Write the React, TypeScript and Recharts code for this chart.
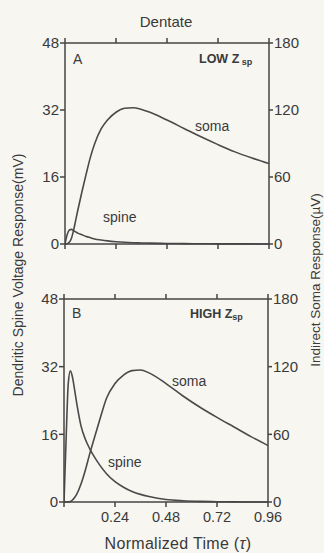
import React from 'react';
import { LineChart, Line, XAxis, YAxis } from 'recharts';

// normalized time (tau), shared by every series
const time = [0, 0.01, 0.02, 0.03, 0.04, 0.05, 0.06, 0.08, 0.1, 0.12, 0.14, 0.17, 0.2, 0.24, 0.28, 0.32, 0.36, 0.4, 0.48, 0.56, 0.64, 0.72, 0.8, 0.88, 0.96];

// panel A, low Zsp
const spineLow = [0, 2.2, 3.3, 3.5, 3.2, 2.9, 2.6, 2.2, 1.8, 1.5, 1.2, 0.95, 0.75, 0.55, 0.4, 0.3, 0.25, 0.2, 0.13, 0.09, 0.06, 0.04, 0.03, 0.02, 0.01];
const somaLow = [0, 0.2, 1.5, 5, 12, 21, 30, 47, 63, 78, 90, 103, 111, 118, 121.5, 122, 120.5, 118, 111, 103.5, 96, 89, 82.5, 77, 72];

// panel B, high Zsp
const spineHigh = [0, 15, 28, 31, 29.5, 26.5, 23.3, 18, 14.9, 12.7, 10.9, 8.6, 6.7, 4.8, 3.5, 2.5, 1.8, 1.3, 0.6, 0.3, 0.15, 0.07, 0.03, 0.01, 0];
const somaHigh = [0, 0, 0.1, 0.5, 1.8, 4, 7, 16, 28, 42, 55, 74, 92, 105, 112.5, 116.5, 117, 114.5, 105, 94, 84, 75, 66.5, 58, 50];

const timeTicks = [0, 0.24, 0.48, 0.72, 0.96];
const mvTicks = [0, 16, 32, 48];
const uvTicks = [0, 60, 120, 180];

const ink = '#444';
const font = '"Liberation Sans", Arial, sans-serif';

const rows = (spine: number[], soma: number[]) =>
  time.map((t, i) => ({ t, spine: spine[i], soma: soma[i] }));

type PanelProps = {
  spine: number[];
  soma: number[];
  top: number;
  height: number;
  margin: { top: number; right: number; bottom: number; left: number };
  bottomLabels: boolean;
};

const Panel: React.FC<PanelProps> = ({ spine, soma, top, height, margin, bottomLabels }) => (
  <div style={{ position: 'absolute', left: 0, top }}>
    <LineChart width={324} height={height} data={rows(spine, soma)} margin={margin}>
      <XAxis
        dataKey="t"
        type="number"
        domain={[0, 0.96]}
        ticks={timeTicks}
        allowDataOverflow
        height={bottomLabels ? 30 : 10}
        tickSize={5}
        tickMargin={5}
        stroke={ink}
        strokeWidth={1.5}
        tick={{ fill: '#3a3a3a', fontSize: 14.5, fontFamily: font }}
        tickFormatter={(v: number) => (bottomLabels && v !== 0 ? v.toFixed(2) : '')}
      />
      <XAxis
        xAxisId="top"
        orientation="top"
        dataKey="t"
        type="number"
        domain={[0, 0.96]}
        ticks={timeTicks}
        allowDataOverflow
        height={10}
        tickSize={5}
        stroke={ink}
        strokeWidth={1.5}
        tickFormatter={() => ''}
      />
      <YAxis
        yAxisId="mv"
        domain={[0, 48]}
        ticks={mvTicks}
        width={30}
        tickSize={5}
        tickMargin={1}
        stroke={ink}
        strokeWidth={1.5}
        tick={{ fill: '#3a3a3a', fontSize: 15, fontFamily: font }}
      />
      <YAxis
        yAxisId="uv"
        orientation="right"
        domain={[0, 180]}
        ticks={uvTicks}
        width={30}
        tickSize={4}
        tickMargin={1}
        stroke={ink}
        strokeWidth={1.5}
        tick={{ fill: '#3a3a3a', fontSize: 15, fontFamily: font }}
      />
      <Line yAxisId="mv" type="monotone" dataKey="spine" stroke="#4a4a4a" strokeWidth={1.6} dot={false} isAnimationActive={false} />
      <Line yAxisId="uv" type="monotone" dataKey="soma" stroke="#4a4a4a" strokeWidth={1.6} dot={false} isAnimationActive={false} />
    </LineChart>
  </div>
);

const txt = { fill: '#3a3a3a', fontFamily: font } as const;

const App: React.FC = () => {
  return (
    <div style={{ position: 'absolute', left: 0, top: 0, width: 324, height: 553, background: '#f7f6f1', overflow: 'hidden' }}>
      <Panel spine={spineLow} soma={somaLow} top={0} height={270} margin={{ top: 33, right: 25, bottom: 16, left: 35 }} bottomLabels={false} />
      <Panel spine={spineHigh} soma={somaHigh} top={270} height={283} margin={{ top: 19, right: 26, bottom: 21, left: 34 }} bottomLabels />

      <svg width={324} height={553} style={{ position: 'absolute', left: 0, top: 0, pointerEvents: 'none' }}>
        <text x={166} y={27} textAnchor="middle" fontSize={15} {...txt}>Dentate</text>

        <text x={73} y={64} fontSize={14} {...txt}>A</text>
        <text x={199} y={63} fontSize={12.5} fontWeight="bold" {...txt}>
          LOW Z<tspan fontSize={9} dy={2}> sp</tspan>
        </text>
        <text x={195} y={131} fontSize={14} {...txt}>soma</text>
        <text x={103} y={222} fontSize={14} {...txt}>spine</text>

        <text x={72} y={318} fontSize={14} {...txt}>B</text>
        <text x={190} y={318} fontSize={12.5} fontWeight="bold" {...txt}>
          HIGH Z<tspan fontSize={9} dy={2}>sp</tspan>
        </text>
        <text x={172} y={386} fontSize={14} {...txt}>soma</text>
        <text x={108} y={467} fontSize={14} {...txt}>spine</text>

        <text x={178} y={549} textAnchor="middle" fontSize={16} letterSpacing={0.3} {...txt}>
          Normalized Time (<tspan fontStyle="italic">τ</tspan>)
        </text>
        <text transform="translate(23 275) rotate(-90)" textAnchor="middle" fontSize={14} {...txt}>
          Dendritic Spine Voltage Response(mV)
        </text>
        <text transform="translate(320 280) rotate(-90)" textAnchor="middle" fontSize={13.5} {...txt}>
          Indirect Soma Response(µV)
        </text>
      </svg>
    </div>
  );
};

export default App;
